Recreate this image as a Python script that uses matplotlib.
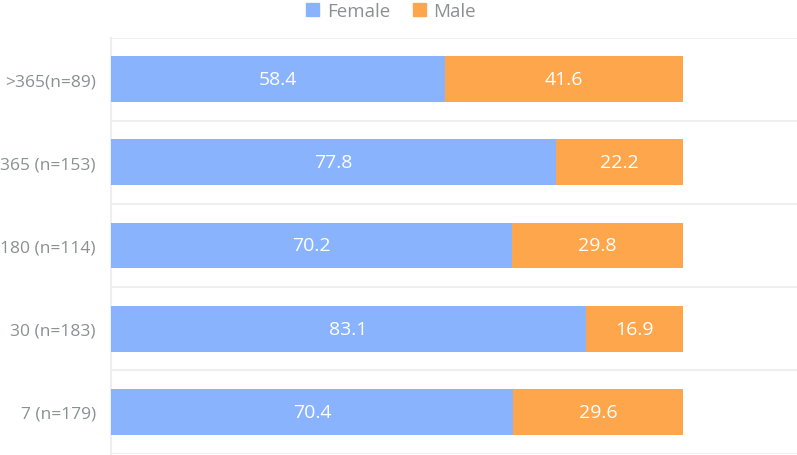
import matplotlib
matplotlib.use("Agg")
import matplotlib.pyplot as plt
from matplotlib.patches import Patch

categories = ["7 (n=179)", "30 (n=183)", "180 (n=114)", "365 (n=153)", ">365(n=89)"]
female = [70.4, 83.1, 70.2, 77.8, 58.4]
male = [29.6, 16.9, 29.8, 22.2, 41.6]

c_f = "#89B3FD"
c_m = "#FDA64B"
grid_c = "#EEEEEE"
txt_c = "#8A9090"

plt.rcParams['font.family'] = ['Open Sans', 'DejaVu Sans']

fig = plt.figure(figsize=(7.97, 4.56), dpi=100)
ax = fig.add_axes([111/797, 1 - 454.5/456, 1 - 111/797, (454.5 - 38.5)/456])

y = list(range(len(categories)))
bh = 0.55
ax.barh(y, female, height=bh, color=c_f, zorder=3)
ax.barh(y, male, left=female, height=bh, color=c_m, zorder=3)

for i in y:
    ax.text(female[i] / 2, i, f"{female[i]:.1f}", ha="center", va="center",
            color="white", fontsize=14, zorder=4)
    ax.text(female[i] + male[i] / 2, i, f"{male[i]:.1f}", ha="center", va="center",
            color="white", fontsize=14, zorder=4)

ax.set_xlim(0, 120)
ax.set_ylim(-0.5, len(categories) - 0.5)
ax.set_yticks(y)
ax.set_yticklabels(categories, color=txt_c, fontsize=12.5)
ax.set_xticks([])
ax.set_yticks([i - 0.5 for i in range(len(categories) + 1)], minor=True)
ax.grid(axis="y", which="minor", color=grid_c, linewidth=1.5, zorder=0)
ax.tick_params(axis="y", which="both", length=0, pad=11)
for s in ["top", "right", "bottom"]:
    ax.spines[s].set_visible(False)
ax.spines["left"].set_color(grid_c)
ax.spines["left"].set_linewidth(1.5)

handles = [Patch(color=c_f, label="Female"), Patch(color=c_m, label="Male")]
leg = fig.legend(handles=handles, loc="center", bbox_to_anchor=(391/797, 1 - 12/456),
                 ncol=2, frameon=False, fontsize=13.5, handlelength=0.7, handleheight=0.7,
                 handletextpad=0.4, columnspacing=1.2)
for t in leg.get_texts():
    t.set_color(txt_c)

fig.savefig("out.png", dpi=100)
